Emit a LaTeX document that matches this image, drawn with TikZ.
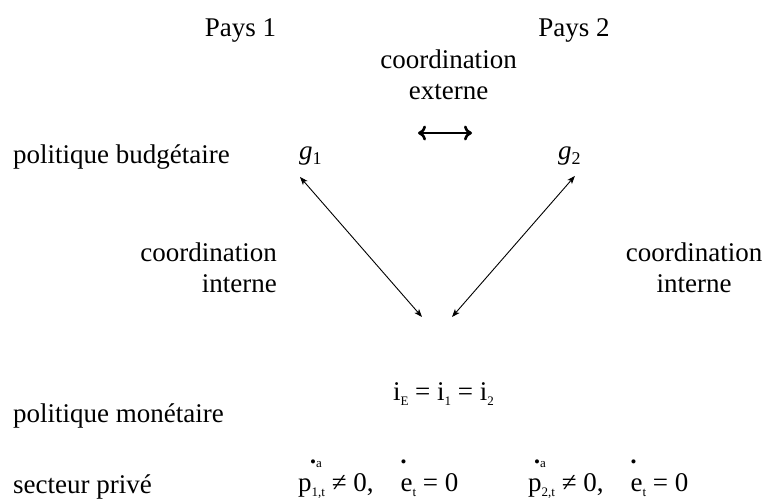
\documentclass[tikz,border=0pt]{standalone}
\usepackage{fontspec}
\setmainfont{Liberation Serif}
\usetikzlibrary{arrows}
\usetikzlibrary{arrows.meta}
\usepackage{graphicx}

\newcommand{\indice}[2][13]{\raisebox{-5pt}{\fontsize{#1}{#1}\selectfont #2}}
\newcommand{\pointe}[3][0pt]{\leavevmode\rlap{\raisebox{24pt}{\kern#1\fontsize{17}{17}\selectfont •\fontsize{13}{13}\selectfont #3}}#2}

\begin{document}
\begin{tikzpicture}[x=1pt,y=-1pt,
  lbl/.style={font=\fontsize{27}{31}\selectfont, inner sep=0pt},
  lien/.style={line width=0.9pt, <->, >={Stealth[length=8pt,width=6pt,inset=2pt]}}]
\useasboundingbox (0,0) rectangle (765,501);
% colonnes des pays
\foreach \i/\x in {1/240.5, 2/574} {
 \node[lbl, anchor=base] (pays\i) at (\x,36) {Pays \i};
}
\node[lbl, anchor=base, align=center] (ext) at (448.5,99) {coordination\\externe};
\coordinate (fl) at (418,133);
\coordinate (fr) at (472,133);
\draw[line width=2.6pt, {To[length=8pt,width=15pt]}-{To[length=8pt,width=15pt]}] (fl) -- (fr);
% lignes
\node[lbl, anchor=base west] (budget) at (13,163) {politique budgétaire};
\node[lbl, anchor=base west] (monet) at (13,422) {politique monétaire};
\node[lbl, anchor=base west] (prive) at (13,493) {secteur privé};
\node[lbl, anchor=base west] (g1) at (299,159) {\textit{g}\indice[18]{1}};
\node[lbl, anchor=base west] (g2) at (558,159) {\textit{g}\indice[18]{2}};
\node[lbl, anchor=base east, align=right] (int1) at (277,292) {coordination\\interne};
\node[lbl, anchor=base, align=center] (int2) at (694,292) {coordination\\interne};
\node[lbl, anchor=base] (taux) at (443.5,400) {i\indice{E} = i\indice{1} = i\indice{2}};
\node[lbl, anchor=base west] (prix1) at (298,491) {\pointe[12pt]{p}{a}\indice{1,t} ≠ 0,\quad\pointe{e}{}\indice{t} = 0};
\node[lbl, anchor=base west] (prix2) at (528,491) {\pointe[6pt]{p}{a}\indice{2,t} ≠ 0,\quad\pointe{e}{}\indice{t} = 0};
% fleches
\coordinate (m1) at (422,317);
\coordinate (m2) at (452,317);
\draw[lien] ([shift={(1,12)}]g1.south west) -- (m1);
\draw[lien] ([shift={(-6,11)}]g2.south east) -- (m2);
\end{tikzpicture}
\end{document}
